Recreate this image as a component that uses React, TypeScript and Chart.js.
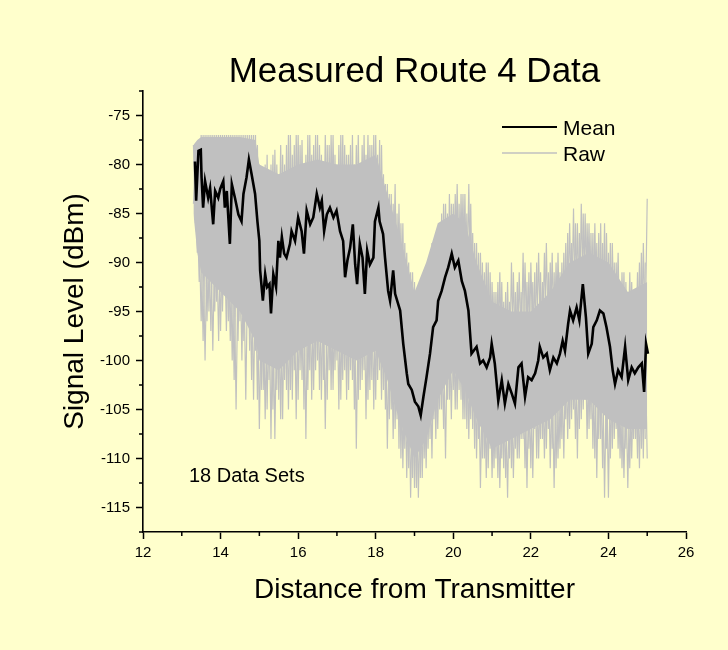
import React, { useEffect, useRef } from "react";
import { Chart, registerables } from "chart.js";

Chart.register(...registerables);

// ---- Data ----
const meanX = [
  13.34, 13.37, 13.43, 13.49, 13.51, 13.55, 13.6, 13.68, 13.73, 13.81, 13.86, 13.94, 13.99,
  14.07, 14.11, 14.16, 14.24, 14.29, 14.37, 14.46, 14.54, 14.59, 14.67, 14.73, 14.8, 14.89, 14.95,
  15.0, 15.02, 15.09, 15.15, 15.2, 15.26, 15.3, 15.36, 15.43, 15.49, 15.53, 15.58, 15.64, 15.7, 15.79, 15.83, 15.92,
  16.0, 16.09, 16.15, 16.22, 16.31, 16.39, 16.48, 16.56, 16.61, 16.67, 16.74, 16.82, 16.91, 16.99,
  17.08, 17.16, 17.21, 17.27, 17.34, 17.41, 17.47, 17.52, 17.59, 17.66, 17.72, 17.78, 17.85, 17.94, 17.98,
  18.07, 18.1, 18.19, 18.24, 18.32, 18.37, 18.45, 18.5, 18.63, 18.71, 18.8, 18.84, 18.93,
  19.01, 19.1, 19.16, 19.23, 19.31, 19.4, 19.48, 19.57, 19.61, 19.7, 19.79, 19.87, 19.96,
  20.04, 20.13, 20.22, 20.3, 20.39, 20.47, 20.6, 20.69, 20.77, 20.86, 20.95, 20.99,
  21.07, 21.16, 21.25, 21.33, 21.42, 21.51, 21.59, 21.68, 21.76, 21.85, 21.93,
  22.02, 22.11, 22.19, 22.23, 22.32, 22.41, 22.49, 22.58, 22.67, 22.75, 22.82, 22.88, 22.96,
  23.01, 23.09, 23.18, 23.25, 23.34, 23.42, 23.48, 23.57, 23.61, 23.7, 23.78, 23.87, 23.95,
  24.04, 24.11, 24.17, 24.25, 24.34, 24.43, 24.51, 24.6, 24.68, 24.77, 24.86, 24.92, 24.97, 25.02,
];
const meanY = [
  -79.7, -83.7, -78.6, -78.5, -81.3, -84.4, -81.7, -83.4, -82.4, -86.1, -82.7, -83.4, -82.5,
  -81.7, -84.4, -82.7, -88.1, -82.0, -83.4, -85.1, -85.8, -83.0, -81.3, -79.5, -81.0, -83.0, -85.8,
  -87.8, -90.8, -93.9, -91.2, -92.5, -92.2, -95.2, -91.2, -92.5, -87.8, -89.5, -87.4, -89.1, -89.5, -88.1, -86.8, -87.8,
  -85.4, -86.8, -89.1, -84.7, -86.1, -85.4, -83.0, -84.4, -83.7, -86.8, -85.1, -84.4, -85.4, -84.7,
  -86.8, -87.8, -91.5, -89.8, -88.5, -86.1, -90.2, -92.2, -88.1, -89.5, -93.2, -88.8, -90.2, -89.5, -85.8,
  -84.4, -85.8, -87.1, -89.5, -92.9, -93.9, -90.8, -93.2, -94.9, -98.3, -101.3, -102.4, -103.0,
  -104.2, -104.7, -105.6, -103.7, -101.7, -99.3, -96.6, -95.9, -93.9, -92.9, -91.5, -90.5, -89.1,
  -90.5, -89.8, -91.9, -92.9, -94.9, -99.3, -98.6, -100.3, -100.0, -100.7, -99.7, -98.3,
  -100.3, -104.1, -102.0, -104.4, -102.4, -103.4, -104.4, -100.7, -100.3, -103.7, -101.7,
  -102.0, -101.3, -100.0, -98.6, -99.7, -99.3, -101.0, -99.7, -100.3, -99.3, -98.0, -99.0, -96.3,
  -94.9, -95.9, -94.6, -95.9, -92.2, -95.6, -99.3, -98.3, -96.6, -95.9, -94.9, -95.2, -96.6,
  -98.6, -101.0, -102.4, -101.0, -101.7, -98.6, -102.0, -100.7, -101.3, -100.7, -100.3, -103.2, -98.3, -99.3,
];

// Raw readings: sample positions with the highest / lowest values seen there
const rawX = [
  13.3, 13.4, 13.5, 13.6, 13.7, 13.8, 13.9, 14.0, 14.1, 14.2,
  14.3, 14.4, 14.5, 14.6, 14.7, 14.8, 14.9, 15.0, 15.1, 15.2,
  15.3, 15.4, 15.5, 15.6, 15.7, 15.8, 15.9, 16.0, 16.1, 16.2,
  16.3, 16.4, 16.5, 16.6, 16.7, 16.8, 16.9, 17.0, 17.1, 17.2,
  17.3, 17.4, 17.5, 17.6, 17.7, 17.8, 17.9, 18.0, 18.1, 18.2,
  18.3, 18.4, 18.5, 18.6, 18.7, 18.8, 18.9, 19.0, 19.1, 19.2,
  19.3, 19.4, 19.5, 19.6, 19.7, 19.8, 19.9, 20.0, 20.1, 20.2,
  20.3, 20.4, 20.5, 20.6, 20.7, 20.8, 20.9, 21.0, 21.1, 21.2,
  21.3, 21.4, 21.5, 21.6, 21.7, 21.8, 21.9, 22.0, 22.1, 22.2,
  22.3, 22.4, 22.5, 22.6, 22.7, 22.8, 22.9, 23.0, 23.1, 23.2,
  23.3, 23.4, 23.5, 23.6, 23.7, 23.8, 23.9, 24.0, 24.1, 24.2,
  24.3, 24.4, 24.5, 24.6, 24.7, 24.8, 24.9, 25.0,
];
const rawHi = [
  -78, -78, -77, -77, -77, -77, -77, -77, -77, -77,
  -77, -77, -77, -77, -77, -77, -77, -80, -82, -79,
  -80, -78.5, -81, -79, -78, -77, -78, -77, -77.5, -79,
  -77, -78, -77, -79, -77, -78, -77, -80, -77, -78,
  -79, -77, -78, -80, -77, -77, -78, -77, -77.5, -81,
  -82, -83, -82, -84, -86, -89, -91, -92, -93, -92,
  -91, -90, -88, -87, -85, -84, -83, -84, -82, -83,
  -83, -82, -87, -88, -89, -91, -90, -92, -93, -91,
  -94, -92, -90, -93, -91, -89, -92, -90, -91, -89,
  -92, -88, -90, -91, -89, -90, -88, -86, -84.5, -86,
  -84, -85, -86, -87, -88, -86, -86, -89, -88, -90,
  -92, -91, -93, -92, -93, -90, -88, -83.5,
];
const rawLo = [
  -84, -89, -96, -100, -95, -99, -94, -97, -93, -96,
  -100, -105, -96, -98, -95, -102, -99, -107, -103, -105,
  -108, -108, -104, -106, -103, -103, -101, -104, -102, -108,
  -101, -103, -100, -104, -107, -101, -103, -100, -104, -101,
  -103, -102, -109, -103, -101, -104, -102, -104, -101, -103,
  -109, -105, -107, -109, -111, -112, -114, -113, -114, -112,
  -111, -108, -106, -107, -105, -110, -104, -103, -105, -104,
  -106, -108, -107, -110, -113, -110, -111, -112, -110, -113,
  -111, -114, -111, -109, -110, -108, -113, -111, -107, -110,
  -108, -109, -111, -113, -110, -108, -106, -107, -105, -110,
  -106, -104, -107, -109, -112, -108, -114, -114, -109, -107,
  -110, -112, -113, -110, -108, -111, -110, -110,
];

// A second set of raw readings, between the first set's samples
const rawX2 = [
  13.35, 13.45, 13.55, 13.65, 13.75, 13.85, 13.95, 14.05, 14.15, 14.25,
  14.35, 14.45, 14.55, 14.65, 14.75, 14.85, 14.95, 15.05, 15.15, 15.25,
  15.35, 15.45, 15.55, 15.65, 15.75, 15.85, 15.95, 16.05, 16.15, 16.25,
  16.35, 16.45, 16.55, 16.65, 16.75, 16.85, 16.95, 17.05, 17.15, 17.25,
  17.35, 17.45, 17.55, 17.65, 17.75, 17.85, 17.95, 18.05, 18.15, 18.25,
  18.35, 18.45, 18.55, 18.65, 18.75, 18.85, 18.95, 19.05, 19.15, 19.25,
  19.35, 19.45, 19.55, 19.65, 19.75, 19.85, 19.95, 20.05, 20.15, 20.25,
  20.35, 20.45, 20.55, 20.65, 20.75, 20.85, 20.95, 21.05, 21.15, 21.25,
  21.35, 21.45, 21.55, 21.65, 21.75, 21.85, 21.95, 22.05, 22.15, 22.25,
  22.35, 22.45, 22.55, 22.65, 22.75, 22.85, 22.95, 23.05, 23.15, 23.25,
  23.35, 23.45, 23.55, 23.65, 23.75, 23.85, 23.95, 24.05, 24.15, 24.25,
  24.35, 24.45, 24.55, 24.65, 24.75, 24.85, 24.95,
];
const rawHi2 = [
  -78, -77.5, -77, -77, -77, -77, -77, -77, -77, -77,
  -77, -77, -77, -77, -77, -77, -78, -81, -80, -82,
  -79, -80, -78, -80, -77, -79, -77, -78, -80, -77,
  -79, -77, -78, -80, -78, -77, -79, -78, -77, -79,
  -78, -80, -77, -78, -79, -78, -77, -79, -78, -82,
  -83, -84, -85, -86, -88, -90, -91, -93, -92, -91,
  -90, -88, -87, -86, -84, -85, -84, -83, -84, -83,
  -85, -84, -88, -89, -90, -90, -91, -93, -92, -92,
  -93, -94, -91, -92, -93, -90, -91, -92, -90, -91,
  -89, -91, -89, -90, -91, -89, -87, -88, -86, -87,
  -85, -86, -87, -86, -87, -88, -87, -88, -90, -89,
  -91, -92, -91, -93, -91, -89, -90,
];
const rawLo2 = [
  -86, -92, -98, -96, -97, -95, -98, -95, -97, -98,
  -102, -98, -100, -104, -99, -104, -104, -103, -106, -102,
  -105, -103, -106, -102, -105, -104, -106, -101, -105, -103,
  -104, -101, -103, -102, -104, -103, -101, -105, -102, -104,
  -101, -105, -104, -102, -106, -103, -105, -102, -104, -105,
  -106, -108, -106, -110, -109, -111, -112, -113, -112, -110,
  -109, -110, -108, -105, -107, -104, -106, -105, -103, -106,
  -107, -106, -109, -108, -110, -112, -109, -111, -112, -110,
  -112, -110, -112, -110, -108, -111, -109, -112, -110, -108,
  -110, -107, -109, -111, -109, -110, -108, -106, -108, -107,
  -105, -108, -106, -110, -108, -111, -109, -110, -108, -109,
  -111, -109, -111, -108, -110, -109, -108,
];

// Dense core of the raw band
const coreX = [13.3, 13.4, 13.5, 14.0, 14.5, 14.9, 15.0, 15.5, 16.0, 16.5, 17.0, 17.5, 18.0, 18.3, 18.6, 19.0, 19.3, 19.6, 20.0, 20.3, 20.6, 21.0, 21.5, 22.0, 22.5, 23.0, 23.5, 24.0, 24.5, 25.0];
const coreHi = [-78, -77.5, -77.2, -77.2, -77.2, -77.5, -80, -81, -80, -79.5, -80, -80, -79, -83, -87, -93, -90, -86, -85, -86, -90, -94, -95, -95, -93, -90, -89, -90, -93, -92];
const coreLo = [-85, -89, -91, -93, -95, -98, -100, -101, -99, -98, -99, -100, -99, -102, -106, -110, -108, -104, -101, -103, -106, -109, -108, -107, -106, -104, -104, -106, -107, -107];

const xTicks = [12, 14, 16, 18, 20, 22, 24, 26];
const xMinor = [13, 15, 17, 19, 21, 23, 25];
const yTicks = [-115, -110, -105, -100, -95, -90, -85, -80, -75];
const yMinor = [-117.5, -112.5, -107.5, -102.5, -97.5, -92.5, -87.5, -82.5, -77.5, -72.5];

const titleText = "Measured Route 4 Data";
const xTitle = "Distance from Transmitter";
const yTitle = "Signal Level (dBm)";
const legendLabels = ["Mean", "Raw"];
const noteText = "18 Data Sets";

const BG = "#FFFFCC";
const RAW = "#C0C0C0";
const FONT = '"Liberation Sans", Arial, Helvetica, sans-serif';

const decorPlugin = {
  id: "decor",
  beforeDraw(chart: any) {
    const { ctx, width, height } = chart;
    ctx.save();
    ctx.fillStyle = BG;
    ctx.fillRect(0, 0, width, height);
    ctx.restore();
  },
  afterDraw(chart: any) {
    const { ctx, chartArea, scales } = chart;
    ctx.save();
    ctx.strokeStyle = "#000";
    ctx.lineWidth = 1.5;
    xMinor.forEach((v) => {
      const px = scales.x.getPixelForValue(v);
      ctx.beginPath();
      ctx.moveTo(px, chartArea.bottom);
      ctx.lineTo(px, chartArea.bottom + 4);
      ctx.stroke();
    });
    yMinor.forEach((v) => {
      const py = scales.y.getPixelForValue(v);
      ctx.beginPath();
      ctx.moveTo(chartArea.left, py);
      ctx.lineTo(chartArea.left - 4, py);
      ctx.stroke();
    });

    ctx.fillStyle = "#000";
    ctx.textBaseline = "alphabetic";
    ctx.textAlign = "center";
    ctx.font = `35px ${FONT}`;
    ctx.fillText(titleText, (chartArea.left + chartArea.right) / 2, 82);

    // legend
    ctx.textAlign = "left";
    ctx.font = `21px ${FONT}`;
    ctx.lineWidth = 2;
    ctx.strokeStyle = "#000";
    ctx.beginPath();
    ctx.moveTo(502, 127);
    ctx.lineTo(557, 127);
    ctx.stroke();
    ctx.fillText(legendLabels[0], 563, 134.5);
    ctx.lineWidth = 1.5;
    ctx.strokeStyle = RAW;
    ctx.beginPath();
    ctx.moveTo(502, 153);
    ctx.lineTo(557, 153);
    ctx.stroke();
    ctx.fillText(legendLabels[1], 563, 160.5);

    ctx.font = `20px ${FONT}`;
    ctx.fillText(noteText, 189, 482);
    ctx.restore();
  },
};

export default function App() {
  const ref = useRef<HTMLCanvasElement | null>(null);

  useEffect(() => {
    document.body.style.margin = "0";
    document.body.style.background = BG;
    const canvas = ref.current;
    if (!canvas) return;

    const meanData = meanX.map((x, i) => ({ x, y: meanY[i] }));
    const rawA = rawX.map((x, i) => ({ x, y: i % 2 === 0 ? rawHi[i] : rawLo[i] }));
    const rawB = rawX.map((x, i) => ({ x, y: i % 2 === 0 ? rawLo[i] : rawHi[i] }));
    const rawC = rawX2.map((x, i) => ({ x, y: i % 2 === 0 ? rawHi2[i] : rawLo2[i] }));
    const rawD = rawX2.map((x, i) => ({ x, y: i % 2 === 0 ? rawLo2[i] : rawHi2[i] }));
    const coreTop = coreX.map((x, i) => ({ x, y: coreHi[i] }));
    const coreBottom = coreX.map((x, i) => ({ x, y: coreLo[i] }));

    const tickFont = { family: FONT, size: 15 };
    const titleFont = { family: FONT, size: 28 };
    const rawStyle = { borderColor: RAW, borderWidth: 1.2, fill: false, order: 1 };

    const chart = new Chart(canvas, {
      type: "line",
      data: {
        datasets: [
          { label: "Mean", data: meanData, borderColor: "#000", borderWidth: 2.6, fill: false, order: 0 },
          { label: "Raw", data: rawA, ...rawStyle },
          { label: "Raw 2", data: rawB, ...rawStyle },
          { label: "Raw 3", data: rawC, ...rawStyle },
          { label: "Raw 4", data: rawD, ...rawStyle },
          { label: "core top", data: coreTop, borderColor: RAW, borderWidth: 0, fill: false, order: 2 },
          { label: "core bottom", data: coreBottom, borderColor: RAW, backgroundColor: RAW, borderWidth: 0, fill: "-1", order: 2 },
        ] as any,
      },
      options: {
        animation: false,
        responsive: false,
        devicePixelRatio: 1,
        parsing: false as any,
        normalized: true,
        elements: { point: { radius: 0 }, line: { tension: 0, borderJoinStyle: "miter" } },
        layout: { padding: { left: 0, right: 42, top: 91, bottom: 0 } },
        plugins: { legend: { display: false }, title: { display: false }, tooltip: { enabled: false } },
        scales: {
          x: {
            type: "linear",
            min: 12,
            max: 26,
            afterBuildTicks: (s: any) => {
              s.ticks = xTicks.map((v) => ({ value: v }));
            },
            afterFit: (s: any) => {
              s.height = 118;
            },
            grid: { drawOnChartArea: false, drawTicks: true, tickLength: 7, tickColor: "#000", tickWidth: 1.5 },
            border: { display: true, color: "#000", width: 1.6 },
            ticks: { color: "#000", font: tickFont, padding: 5, maxRotation: 0, autoSkip: false },
            title: { display: true, text: xTitle, color: "#000", font: titleFont, padding: { top: 0, bottom: 43 } },
          },
          y: {
            type: "linear",
            min: -117.5,
            max: -72.5,
            afterBuildTicks: (s: any) => {
              s.ticks = yTicks.map((v) => ({ value: v }));
            },
            afterFit: (s: any) => {
              s.width = 143;
            },
            grid: { drawOnChartArea: false, drawTicks: true, tickLength: 7, tickColor: "#000", tickWidth: 1.5 },
            border: { display: true, color: "#000", width: 1.6 },
            ticks: { color: "#000", font: tickFont, padding: 6, autoSkip: false },
            title: { display: true, text: yTitle, color: "#000", font: titleFont, padding: { top: 58, bottom: 0 } },
          },
        },
      } as any,
      plugins: [decorPlugin],
    });

    return () => chart.destroy();
  }, []);

  return (
    <div style={{ width: 728, height: 650, background: BG }}>
      <canvas ref={ref} width={728} height={650} style={{ display: "block", width: 728, height: 650 }} />
    </div>
  );
}
